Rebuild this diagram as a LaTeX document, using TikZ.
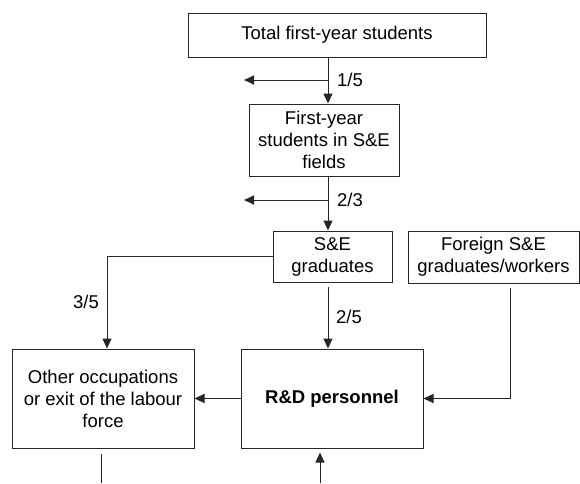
\documentclass[tikz,border=0pt]{standalone}
\usepackage{fontspec}
\setmainfont{Liberation Sans}
\usetikzlibrary{arrows.meta,calc}
\begin{document}
\begin{tikzpicture}[x=1pt,y=-1pt,
  box/.style={draw=black!85,line width=1pt,inner sep=0pt,align=center,font=\fontsize{18.5}{22}\selectfont},
  lbl/.style={inner sep=0pt,font=\fontsize{18.5}{22}\selectfont},
  arr/.style={draw=black!85,line width=1pt,-{Triangle[length=10pt,width=9pt]}},
  ln/.style={draw=black!85,line width=1pt}]
\useasboundingbox (0,0) rectangle (580,483);
\node[box,minimum width=298,minimum height=44] (total) at (337,35) {Total first-year students};
\node[box,minimum width=150,minimum height=72] (first) at (324,140) {First-year\\students in S\&E\\fields};
\node[box,minimum width=119,minimum height=51] (seg) at (332.5,256.5) {S\&E\\graduates};
\node[box,minimum width=171,minimum height=52] (foreign) at (493.5,257) {Foreign S\&E\\graduates/workers};
\node[box,minimum width=182,minimum height=99] (other) at (103,398.5) {Other occupations\\or exit of the labour\\force};
\node[box,minimum width=182,minimum height=99,font=\fontsize{18.5}{22}\selectfont\bfseries] (rd) at (332,398.5) {R\&D personnel};
\coordinate (c1) at (328,0);
\coordinate (l1) at (244,80);
\coordinate (l2) at (244,200);
\coordinate (b1) at (101,483);
\coordinate (b2) at (320,483);
% flows
\draw[arr] (total.south -| c1) -- (first.north -| c1);
\draw[arr] (l1 -| c1) -- (l1);
\node[lbl,anchor=west] (f15) at (337,80) {1/5};
\draw[arr] (first.south -| c1) -- (seg.north -| c1);
\draw[arr] (l2 -| c1) -- (l2);
\node[lbl,anchor=west] (f23) at (337,200) {2/3};
\draw[arr] (seg.west) -| ($(other.north)+(4,0)$);
\node[lbl,anchor=east] (f35) at (99,302) {3/5};
\draw[arr] ($(seg.south -| c1)+(0,4)$) -- (rd.north -| c1);
\node[lbl,anchor=west] (f25) at (336,317) {2/5};
\draw[arr] ($(foreign.south)+(16.5,4)$) |- (rd.east);
\draw[arr] (rd.west) -- (other.east);
\draw[ln] ($(other.south -| b1)+(0,5)$) -- (b1);
\draw[arr] (b2) -- ($(rd.south -| b2)+(0,4)$);
\end{tikzpicture}
\end{document}
